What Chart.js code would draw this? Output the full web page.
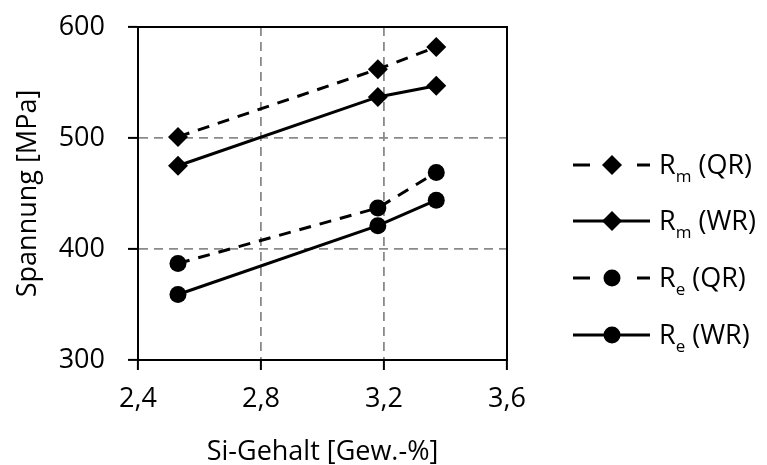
<!DOCTYPE html>
<html>
<head>
<meta charset="utf-8">
<script src="https://cdn.jsdelivr.net/npm/chart.js@4/dist/chart.umd.min.js"></script>
<style>
   html, body { margin: 0; padding: 0; background: #fff; }
   #wrap { width: 767px; height: 465px; }
</style>
</head>
<body>
<div id="wrap"><canvas id="myChart" width="767" height="465"></canvas></div>
<script>
// Si-Gehalt (x) und Spannungen (y)
const siGehalt = [2.53, 3.18, 3.37];
const rmQR = [501, 562, 582];
const rmWR = [475, 537, 547];
const reQR = [387, 437, 469];
const reWR = [359, 421, 444];
const seriesLabels = ['R_m (QR)', 'R_m (WR)', 'R_e (QR)', 'R_e (WR)'];
const xTicks = [2.4, 2.8, 3.2, 3.6];
const yTicks = [300, 400, 500, 600];

const FONT = '"Open Sans", Lato, sans-serif';
const FS = 27;

function toPoints(vals) {
   return vals.map((v, i) => ({x: siGehalt[i], y: v}));
}

function makeSet(label, vals, style, dashed) {
   return {
      label: label,
      data: toPoints(vals),
      borderColor: '#000',
      backgroundColor: '#000',
      borderWidth: 3,
      borderDash: dashed ? [12, 9] : [],
      pointStyle: style,
      pointRadius: style === 'rectRot' ? 10 : 8.5,
      pointBorderWidth: 0,
      pointBackgroundColor: '#000',
      fill: false,
      tension: 0
   };
}

// Rahmen oben/rechts
const framePlugin = {
   id: 'frame',
   beforeDatasetsDraw(chart) {
      const {ctx, chartArea: a} = chart;
      ctx.save();
      ctx.strokeStyle = '#000';
      ctx.lineWidth = 2;
      ctx.setLineDash([]);
      ctx.strokeRect(a.left, a.top, a.right - a.left, a.bottom - a.top);
      ctx.restore();
   }
};

// Legende mit Index (R_m, R_e)
const legendPlugin = {
   id: 'subLegend',
   afterDraw(chart) {
      const ctx = chart.ctx;
      const rowY = [165, 221, 278, 335];
      const x1 = 573, x2 = 650, xm = 612, xt = 659;
      chart.data.datasets.forEach((ds, i) => {
         const y = rowY[i];
         ctx.save();
         ctx.strokeStyle = '#000';
         ctx.lineWidth = 3;
         ctx.setLineDash(ds.borderDash.length ? [17, 47] : []);
         ctx.beginPath();
         ctx.moveTo(x1, y);
         ctx.lineTo(x2, y);
         ctx.stroke();
         ctx.setLineDash([]);
         ctx.fillStyle = '#000';
         ctx.beginPath();
         if (ds.pointStyle === 'rectRot') {
            const r = 10;
            ctx.moveTo(xm - r, y);
            ctx.lineTo(xm, y - r);
            ctx.lineTo(xm + r, y);
            ctx.lineTo(xm, y + r);
            ctx.closePath();
         } else {
            ctx.arc(xm, y, 8.5, 0, Math.PI * 2);
         }
         ctx.fill();

         const [main, rest] = ds.label.split('_');
         const sub = rest.split(' ')[0];
         const tail = rest.slice(sub.length);
         ctx.textBaseline = 'alphabetic';
         ctx.textAlign = 'left';
         ctx.font = `${FS}px ${FONT}`;
         let x = xt;
         ctx.fillText(main, x, y + 9);
         x += ctx.measureText(main).width;
         ctx.font = `17px ${FONT}`;
         ctx.fillText(sub, x, y + 17);
         x += ctx.measureText(sub).width;
         ctx.font = `${FS}px ${FONT}`;
         ctx.fillText(tail, x, y + 9);
         ctx.restore();
      });
   }
};

const fmt = v => Number(v).toFixed(1).replace('.', ',');

new Chart(document.getElementById('myChart').getContext('2d'), {
   type: 'line',
   data: {
      datasets: [
         makeSet(seriesLabels[0], rmQR, 'rectRot', true),
         makeSet(seriesLabels[1], rmWR, 'rectRot', false),
         makeSet(seriesLabels[2], reQR, 'circle', true),
         makeSet(seriesLabels[3], reWR, 'circle', false)
      ]
   },
   options: {
      responsive: false,
      animation: false,
      layout: {padding: {top: 27, right: 260, left: 0, bottom: 0}},
      plugins: {legend: {display: false}, tooltip: {enabled: false}},
      scales: {
         x: {
            type: 'linear',
            min: xTicks[0],
            max: xTicks[xTicks.length - 1],
            afterFit(scale) { scale.height = 105; scale.paddingLeft = 0; scale.paddingRight = 0; },
            afterBuildTicks(scale) { scale.ticks = xTicks.map(v => ({value: v})); },
            ticks: {
               callback: fmt,
               color: '#000',
               font: {family: FONT, size: FS},
               padding: 13,
               maxRotation: 0
            },
            grid: {color: '#8a8a8a', lineWidth: 1.8, tickLength: 10, tickColor: '#000', tickWidth: 2, tickBorderDash: []},
            border: {display: true, color: '#000', width: 2, dash: [9, 6]},
            title: {
               display: true,
               text: 'Si-Gehalt [Gew.-%]',
               color: '#000',
               font: {family: FONT, size: FS, lineHeight: 1},
               padding: {top: 0, bottom: -1}
            }
         },
         y: {
            min: yTicks[0],
            max: yTicks[yTicks.length - 1],
            afterFit(scale) { scale.width = 138; scale.paddingTop = 0; scale.paddingBottom = 0; },
            afterBuildTicks(scale) { scale.ticks = yTicks.map(v => ({value: v})); },
            ticks: {
               color: '#000',
               font: {family: FONT, size: FS},
               padding: 23
            },
            grid: {color: '#8a8a8a', lineWidth: 1.8, tickLength: 10, tickColor: '#000', tickWidth: 2, tickBorderDash: []},
            border: {display: true, color: '#000', width: 2, dash: [9, 6]},
            title: {
               display: true,
               text: 'Spannung [MPa]',
               color: '#000',
               font: {family: FONT, size: FS, lineHeight: 1},
               padding: {top: 15, bottom: 0}
            }
         }
      }
   },
   plugins: [framePlugin, legendPlugin]
});
</script>
</body>
</html>
